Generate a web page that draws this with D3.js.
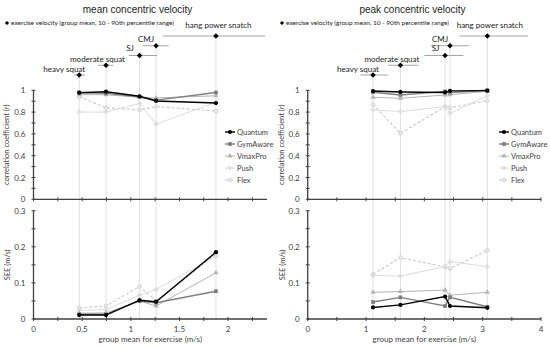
<!DOCTYPE html>
<html>
<head>
<meta charset="utf-8">
<script src="https://cdn.jsdelivr.net/npm/d3@7"></script>
<style>
  body { margin: 0; background: #fff; }
</style>
</head>
<body>
<script>
// exercises and their group mean velocity with 10-90th percentile range
const exercises = ["heavy squat", "moderate squat", "SJ", "CMJ", "hang power snatch"];
const meanVel = [0.47, 0.745, 1.09, 1.26, 1.875];
const meanLo = [0.42, 0.66, 0.98, 1.125, 1.33];
const meanHi = [0.53, 0.82, 1.27, 1.39, 2.38];
const peakVel = [1.12, 1.59, 2.355, 2.44, 3.08];
const peakLo = [0.9, 1.38, 2.0, 2.11, 2.6];
const peakHi = [1.38, 1.9, 2.67, 2.77, 3.78];

const devices = ["Quantum", "GymAware", "VmaxPro", "Push", "Flex"];

// one row per device, one value per exercise
const meanR = [
  [0.978, 0.987, 0.945, 0.902, 0.883],
  [0.98, 0.972, 0.94, 0.91, 0.98],
  [0.96, 0.96, 0.935, 0.93, 0.95],
  [0.80, 0.80, 0.88, 0.69, 0.89],
  [0.94, 0.84, 0.82, 0.85, 0.81]
];
const meanSEE = [
  [0.011, 0.011, 0.052, 0.048, 0.185],
  [0.013, 0.013, 0.05, 0.045, 0.077],
  [0.016, 0.017, 0.05, 0.036, 0.128],
  [0.024, 0.026, 0.066, 0.082, 0.174],
  [0.031, 0.036, 0.09, 0.05, 0.18]
];
const peakR = [
  [0.993, 0.985, 0.98, 0.995, 0.997],
  [0.982, 0.957, 0.99, 0.98, 1.0],
  [0.936, 0.927, 0.957, 0.96, 0.99],
  [0.82, 0.805, 0.85, 0.79, 0.95],
  [0.87, 0.605, 0.85, 0.84, 0.905]
];
const peakSEE = [
  [0.032, 0.039, 0.062, 0.036, 0.031],
  [0.047, 0.06, 0.036, 0.06, 0.034],
  [0.074, 0.076, 0.08, 0.066, 0.074],
  [0.121, 0.119, 0.145, 0.159, 0.145],
  [0.124, 0.17, 0.144, 0.14, 0.19]
];

const rTicks = [0, 0.2, 0.4, 0.6, 0.8, 1];
const seeTicks = [0, 0.1, 0.2, 0.3];
const meanXTicks = [0, 0.5, 1, 1.5, 2];
const peakXTicks = [0, 1, 2, 3, 4];

const width = 550;
const height = 348;
const axisColor = "#404040";
const textColor = "#404040";

const styles = [
  { color: "#000000", w: 1.4, sym: d3.symbolCircle, size: 14, fill: "#000000" },
  { color: "#7f7f7f", w: 1.4, sym: d3.symbolSquare, size: 14, fill: "#7f7f7f" },
  { color: "#b4b4b4", w: 1, sym: d3.symbolTriangle, size: 12, fill: "#b4b4b4" },
  { color: "#dcdcdc", w: 1, sym: d3.symbolCross, size: 14, fill: "#dcdcdc" },
  { color: "#c8c8c8", w: 1.1, sym: d3.symbolCircle, size: 12, fill: "#e8e8e8", dash: "3,2" }
];

// label nudges for the exercise annotations
const labelDx = [-15, -8.5, -9.5, -10, 2.5];
const labelDy = [-3, -3, -4.5, -3.5, -8.5];

const svg = d3.select("body")
  .append("svg")
  .attr("width", width)
  .attr("height", height)
  .style("font-family", "Lato, 'Open Sans', sans-serif");

const yR = d3.scaleLinear().domain([0, 1]).range([199.3, 90.3]);
const yS = d3.scaleLinear().domain([0, 0.3]).range([319, 210.7]);
const yEx = d3.scaleLinear().domain([0, 4]).range([75, 36]);

// square turned 45 degrees, like the excel diamond marker
const diamond = (size) => d3.symbol(d3.symbolSquare, size)();

function panel(o) {
  const x = d3.scaleLinear().domain([0, o.xmax]).range([o.x0, o.x1]);
  const g = svg.append("g");

  g.append("text")
    .attr("x", o.left + 137.5)
    .attr("y", 12.5)
    .attr("text-anchor", "middle")
    .style("font-family", "'Liberation Sans', Arial, sans-serif")
    .style("font-size", "10px")
    .attr("fill", "#222")
    .text(o.title);

  // little note with the diamond
  g.append("path")
    .attr("d", diamond(9))
    .attr("transform", `translate(${o.left + 7},${23}) rotate(45)`)
    .attr("fill", "#000");
  g.append("text")
    .attr("x", o.left + 11)
    .attr("y", 25.2)
    .style("font-size", "6.5px")
    .attr("fill", "#222")
    .text("exercise velocity (group mean, 10 - 90th percentile range)");

  // vertical guides from each exercise down to the bottom axis
  g.selectAll(".guide")
    .data(o.vel)
    .enter()
    .append("line")
    .attr("x1", (d) => x(d))
    .attr("x2", (d) => x(d))
    .attr("y1", (d, i) => yEx(i))
    .attr("y2", yS(0))
    .attr("stroke", "#e0e0e0")
    .attr("stroke-width", 1);

  // percentile ranges
  g.selectAll(".range")
    .data(o.vel)
    .enter()
    .append("line")
    .attr("x1", (d, i) => x(o.lo[i]))
    .attr("x2", (d, i) => x(o.hi[i]))
    .attr("y1", (d, i) => yEx(i))
    .attr("y2", (d, i) => yEx(i))
    .attr("stroke", "#a6a6a6")
    .attr("stroke-width", 1);

  g.selectAll(".ex")
    .data(o.vel)
    .enter()
    .append("path")
    .attr("d", diamond(15))
    .attr("transform", (d, i) => `translate(${x(d)},${yEx(i)}) rotate(45)`)
    .attr("fill", "#000");

  g.selectAll(".exlabel")
    .data(exercises)
    .enter()
    .append("text")
    .attr("x", (d, i) => x(o.vel[i]) + labelDx[i])
    .attr("y", (d, i) => yEx(i) + labelDy[i])
    .attr("text-anchor", "middle")
    .style("font-size", "8px")
    .attr("fill", "#222")
    .text((d) => d);

  // axes
  function xAxis(yPos, minorStep, labels) {
    const ax = g.append("g");
    ax.append("line")
      .attr("x1", o.x0).attr("x2", o.x1)
      .attr("y1", yPos).attr("y2", yPos)
      .attr("stroke", axisColor).attr("stroke-width", 1.3);
    const minor = d3.range(0, o.xmax + 1e-9, minorStep);
    ax.selectAll(".t")
      .data(minor)
      .enter()
      .append("line")
      .attr("x1", (d) => x(d)).attr("x2", (d) => x(d))
      .attr("y1", yPos - 2).attr("y2", yPos + 2)
      .attr("stroke", axisColor).attr("stroke-width", 1);
    if (labels) {
      ax.selectAll(".l")
        .data(labels)
        .enter()
        .append("text")
        .attr("x", (d) => x(d))
        .attr("y", yPos + 13)
        .attr("text-anchor", "middle")
        .style("font-size", "8px")
        .attr("fill", textColor)
        .text((d) => d);
    }
  }

  function yAxis(scale, ticks, minorStep) {
    const ax = g.append("g");
    const [d0, d1] = scale.domain();
    ax.append("line")
      .attr("x1", o.x0).attr("x2", o.x0)
      .attr("y1", scale(d0)).attr("y2", scale(d1))
      .attr("stroke", axisColor).attr("stroke-width", 1.3);
    ax.selectAll(".t")
      .data(d3.range(d0, d1 + 1e-9, minorStep))
      .enter()
      .append("line")
      .attr("x1", o.x0 - 2).attr("x2", o.x0 + 2)
      .attr("y1", (d) => scale(d)).attr("y2", (d) => scale(d))
      .attr("stroke", axisColor).attr("stroke-width", 1);
    ax.selectAll(".l")
      .data(ticks)
      .enter()
      .append("text")
      .attr("x", o.x0 - 8)
      .attr("y", (d) => scale(d) + 3)
      .attr("text-anchor", "end")
      .style("font-size", "8px")
      .attr("fill", textColor)
      .text((d) => String(+d.toFixed(1)));
  }

  yAxis(yR, rTicks, 0.1);
  yAxis(yS, seeTicks, 0.05);
  xAxis(yR(0), o.minor, null);
  xAxis(yS(0), o.minor, o.xTicks);

  g.append("text")
    .attr("transform", `translate(${o.left + 8.5},${(yR(0) + yR(1)) / 2}) rotate(-90)`)
    .attr("text-anchor", "middle")
    .style("font-size", "7.5px")
    .attr("fill", textColor)
    .html("correlation coefficient (<tspan font-style='italic'>r</tspan>)");

  g.append("text")
    .attr("transform", `translate(${o.left + 10},${(yS(0) + yS(0.3)) / 2}) rotate(-90)`)
    .attr("text-anchor", "middle")
    .style("font-size", "7.5px")
    .attr("fill", textColor)
    .text("SEE (m/s)");

  g.append("text")
    .attr("x", (o.x0 + o.x1) / 2)
    .attr("y", 342)
    .attr("text-anchor", "middle")
    .style("font-size", "8px")
    .attr("fill", textColor)
    .text("group mean for exercise (m/s)");

  // series, light ones first
  const order = [4, 3, 2, 1, 0];
  order.forEach((s) => {
    const st = styles[s];
    [[o.r[s], yR], [o.see[s], yS]].forEach(([vals, ys]) => {
      const line = d3.line()
        .x((d, i) => x(o.vel[i]))
        .y((d) => ys(d));
      g.append("path")
        .datum(vals)
        .attr("d", line)
        .attr("fill", "none")
        .attr("stroke", st.color)
        .attr("stroke-width", st.w)
        .attr("stroke-dasharray", st.dash || null);
      g.selectAll(null)
        .data(vals)
        .enter()
        .append("path")
        .attr("d", d3.symbol(st.sym, st.size)())
        .attr("transform", (d, i) => `translate(${x(o.vel[i])},${ys(d)})`)
        .attr("fill", st.fill)
        .attr("stroke", s === 4 ? st.color : "none")
        .attr("stroke-width", 0.6);
    });
  });

  // legend
  const leg = g.append("g").attr("transform", `translate(${o.legX},132)`);
  devices.forEach((name, s) => {
    const st = styles[s];
    const row = leg.append("g").attr("transform", `translate(0,${s * 12})`);
    row.append("line")
      .attr("x1", 0).attr("x2", 10)
      .attr("stroke", st.color)
      .attr("stroke-width", st.w)
      .attr("stroke-dasharray", st.dash || null);
    row.append("path")
      .attr("d", d3.symbol(st.sym, st.size)())
      .attr("transform", "translate(5,0)")
      .attr("fill", st.fill)
      .attr("stroke", s === 4 ? st.color : "none")
      .attr("stroke-width", 0.6);
    row.append("text")
      .attr("x", 12)
      .attr("y", 3)
      .style("font-size", "7.5px")
      .attr("fill", textColor)
      .text(name);
  });
}

panel({
  left: 0, title: "mean concentric velocity",
  x0: 33.5, x1: 33.5 + 2.4 * 97.3, xmax: 2.4, minor: 0.25, xTicks: meanXTicks,
  vel: meanVel, lo: meanLo, hi: meanHi, r: meanR, see: meanSEE, legX: 225
});

panel({
  left: 275, title: "peak concentric velocity",
  x0: 307.7, x1: 541, xmax: 4, minor: 0.5, xTicks: peakXTicks,
  vel: peakVel, lo: peakLo, hi: peakHi, r: peakR, see: peakSEE, legX: 499
});
</script>
</body>
</html>
